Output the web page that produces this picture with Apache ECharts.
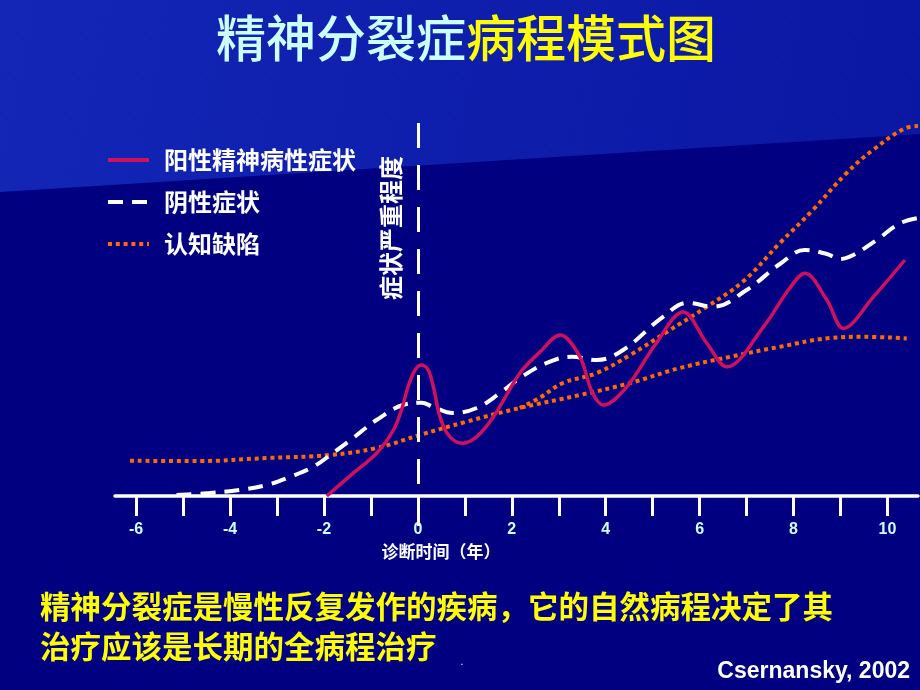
<!DOCTYPE html>
<html><head><meta charset="utf-8">
<script src="https://cdn.jsdelivr.net/npm/echarts@6/dist/echarts.min.js"></script>
<style>html,body{margin:0;padding:0;background:#000080;}#c{width:920px;height:690px;}</style>
</head><body><div id="c"></div>
<script>
// ---- data (years relative to diagnosis, severity in arbitrary units) ----
const tickYears = [-6,-5,-4,-3,-2,-1,0,1,2,3,4,5,6,7,8,9,10];
const labelYears = [-6,-4,-2,0,2,4,6,8,10];

const positiveYears = [-1.94,-1.38,-0.88,-0.52,-0.35,-0.21,-0.06,0.08,0.22,0.33,0.47,0.65,0.93,1.25,1.61,2.17,2.60,3.03,3.45,3.71,3.95,4.45,5.05,5.65,6.15,6.58,7.36,7.92,8.24,8.71,9.06,9.70,10.37];
const positiveSeverity = [0,5.7,10.7,16.5,21.5,27.3,31.5,32.75,31.5,27.3,19.8,15.25,13.2,14.8,19.8,30.7,36,40.25,34.8,26,22.75,27.3,37.75,46,38.25,32.3,42.3,52,55.7,49,41.9,49.8,59];

const negativeYears = [-5.14,-4.43,-3.79,-3.22,-2.72,-2.23,-1.81,-1.38,-0.88,-0.32,0.08,0.32,0.75,1.25,1.75,2.17,2.74,3.28,3.81,4.37,5.22,5.75,6.28,7.00,7.71,8.24,8.71,8.99,9.27,9.77,10.27,10.65];
const negativeSeverity = [0.25,0.75,1.5,2.75,4.8,7.3,10.75,14.5,19,22.75,23.3,22.3,20.75,22,25.75,29.5,33.25,34.8,34,36.5,44.8,48.3,47.3,51.5,58,61.5,60.5,59.25,60.25,64,68.2,69.5];

const cognitiveYears = [-6.13,-4.64,-3.22,-1.87,-0.88,0.04,1.04,2.17,3.45,4.52,5.58,6.65,7.71,8.78,9.48,10.41];
const cognitiveSeverity = [8.8,8.75,9.5,10.25,12,15.25,18.6,22,25.25,28.25,32,34.8,37.3,39.5,39.8,39.4];

const cognitiveHighYears = [2.17,2.60,3.09,3.81,4.52,5.30,6.15,6.92,7.71,8.41,9.13,9.69,10.37,10.65];
const cognitiveHighSeverity = [22,24.6,28.25,30.75,35.25,41,47.3,53.6,63.25,71.5,80.75,86.5,91.9,92.5];

const diagnosisYear = 0;
const diagnosisLineTop = 93.25;
const diagnosisLineBottom = -8.5;

const titleA = '精神分裂症';
const titleB = '病程模式图';
const seriesNames = ['阳性精神病性症状','阴性症状','认知缺陷'];
const xAxisTitle = '诊断时间（年）';
const yAxisTitle = '症状严重程度';
const note1 = '精神分裂症是慢性反复发作的疾病，它的自然病程决定了其';
const note2 = '治疗应该是长期的全病程治疗';
const source = 'Csernansky, 2002';

// ---- build ----
const zip = (a, b) => a.map((v, i) => [v, b[i]]);
const FONT = "'Liberation Sans','Noto Sans CJK SC',sans-serif";
const CJK = "'Noto Sans CJK SC',sans-serif";

const chart = echarts.init(document.getElementById('c'), null, {renderer: 'canvas'});
chart.setOption({
  animation: false,
  backgroundColor: '#000080',
  title: {
    text: '{a|' + titleA + '}{b|' + titleB + '}',
    left: 211, top: 8,
    textStyle: {
      fontWeight: 'normal',
      rich: {
        a: {color: '#ccffff', fontSize: 50, fontWeight: 500, fontFamily: CJK, textShadowColor: '#000030', textShadowOffsetX: 3, textShadowOffsetY: 3, textShadowBlur: 0},
        b: {color: '#ffff00', fontSize: 50, fontWeight: 500, fontFamily: CJK, textShadowColor: '#000030', textShadowOffsetX: 3, textShadowOffsetY: 3, textShadowBlur: 0}
      }
    }
  },
  legend: {
    orient: 'vertical', left: 101, top: 143,
    itemWidth: 41, itemHeight: 14, itemGap: 18,
    data: seriesNames,
    itemStyle: {opacity: 0},
    lineStyle: {width: 4},
    textStyle: {color: '#ffffff', fontSize: 24, fontWeight: 'bold', fontFamily: CJK, padding: [0,0,0,10], lineHeight: 23}
  },
  grid: {left: 115, right: 2, top: 96, bottom: 154},
  xAxis: {
    type: 'value', min: -6.45, max: 10.65,
    axisLine: {onZero: true, lineStyle: {color: '#ffffff', width: 3.5}},
    axisTick: {show: true, length: 20, customValues: tickYears, lineStyle: {color: '#ffffff', width: 3}},
    axisLabel: {customValues: labelYears, margin: -14, color: '#ccffff', fontSize: 16, fontWeight: 'bold', fontFamily: FONT},
    splitLine: {show: false}
  },
  yAxis: {type: 'value', min: -10, max: 100, show: false},
  graphic: [
    {type: 'polygon', z: -10, silent: true,
     shape: {points: [[0,0],[920,0],[920,134],[0,192]]},
     style: {fill: new echarts.graphic.LinearGradient(0,0,1,1,[{offset:0,color:'#1326b6'},{offset:1,color:'#0a17a2'}])}},
    {type: 'text', x: 391, y: 300, rotation: Math.PI/2, silent: true,
     style: {text: yAxisTitle, fill: '#ffffff', font: "bold 24px " + CJK, textAlign: 'left', textVerticalAlign: 'middle'}},
    {type: 'text', x: 441, y: 552, silent: true,
     style: {text: xAxisTitle, fill: '#ffffff', font: "bold 17px " + CJK, textAlign: 'center', textVerticalAlign: 'middle'}},
    {type: 'text', x: 40, y: 606, silent: true,
     style: {text: note1, fill: '#ffff00', font: "bold 30.5px " + CJK, textAlign: 'left', textVerticalAlign: 'middle', textShadowColor: '#00003a', textShadowOffsetX: 1.5, textShadowOffsetY: 1.5}},
    {type: 'text', x: 40, y: 646, silent: true,
     style: {text: note2, fill: '#ffff00', font: "bold 30.5px " + CJK, textAlign: 'left', textVerticalAlign: 'middle', textShadowColor: '#00003a', textShadowOffsetX: 1.5, textShadowOffsetY: 1.5}},
    {type: 'text', x: 910, y: 672, silent: true,
     style: {text: source, fill: '#ffffff', font: "bold 23px 'Liberation Sans',sans-serif", textAlign: 'right', textVerticalAlign: 'middle'}},
    {type: 'text', x: 462, y: 662, silent: true,
     style: {text: '.', fill: '#ffffff', font: "10px 'Liberation Sans',sans-serif", textAlign: 'center', textVerticalAlign: 'middle'}}
  ],
  series: [
    {name: seriesNames[2], type: 'line', data: zip(cognitiveYears, cognitiveSeverity), smooth: 0.4, symbol: 'none', z: 3,
     lineStyle: {color: '#ff6a00', width: 4, type: [4, 3.8], cap: 'butt'}, itemStyle: {color: '#ff6a00'}},
    {name: seriesNames[2], type: 'line', data: zip(cognitiveHighYears, cognitiveHighSeverity), smooth: 0.4, symbol: 'none', z: 3,
     lineStyle: {color: '#ff6a00', width: 4, type: [4, 3.8], cap: 'butt'}, itemStyle: {color: '#ff6a00'}},
    {name: seriesNames[1], type: 'line', data: zip(negativeYears, negativeSeverity), smooth: 0.4, symbol: 'none', z: 4,
     lineStyle: {color: '#ffffff', width: 4, type: [15, 9], cap: 'butt'}, itemStyle: {color: '#ffffff'}},
    {name: seriesNames[0], type: 'line', data: zip(positiveYears, positiveSeverity), smooth: 0.35, symbol: 'none', z: 5,
     lineStyle: {color: '#d0105e', width: 3.5}, itemStyle: {color: '#d0105e'},
     markLine: {silent: true, symbol: 'none', label: {show: false},
       lineStyle: {color: '#ffffff', width: 3, type: [25, 17]},
       data: [[{coord: [diagnosisYear, diagnosisLineTop]}, {coord: [diagnosisYear, diagnosisLineBottom]}]]}}
  ]
});
</script></body></html>
